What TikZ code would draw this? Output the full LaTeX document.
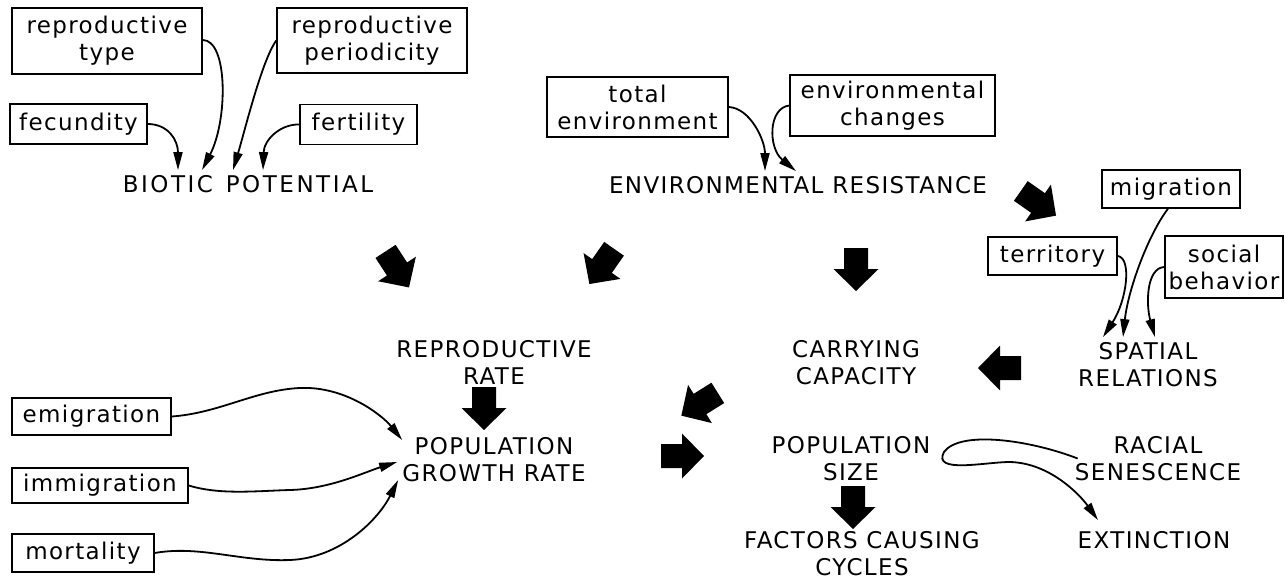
\documentclass[tikz,border=0pt]{standalone}
\usepackage{fontspec}
\setmainfont{DejaVu Sans}[LetterSpace=6]
\usetikzlibrary{arrows.meta}
\tikzset{
  bigarrow/.pic={\fill (-21,-12) -- (0,-12) -- (0,-22.5) -- (22,0) -- (0,22.5) -- (0,12) -- (-21,12) -- cycle;},
  lbl/.style={inner sep=5pt, align=center},
  box/.style={draw, line width=1.4pt, inner sep=0pt, align=center},
  conn/.style={line width=1.8pt, -{Triangle[length=18pt,width=9pt]}}
}
\begin{document}
\begin{tikzpicture}[x=1pt,y=-1pt, every node/.style={font=\fontsize{23}{27}\selectfont}]
\useasboundingbox (0,0) rectangle (1285,580);

% boxes
\node[box, minimum width=190pt, minimum height=66pt] (rt) at (107,41) {reproductive\\type};
\node[box, minimum width=190pt, minimum height=65pt] (rp) at (372,40.5) {reproductive\\periodicity};
\node[box, minimum width=137pt, minimum height=40pt] (fec) at (78.5,124) {fecundity};
\node[box, minimum width=117pt, minimum height=40pt] (fer) at (358.5,124.5) {fertility};
\node[box, minimum width=181pt, minimum height=60pt] (te) at (637.5,107) {total\\environment};
\node[box, minimum width=205pt, minimum height=61pt] (ec) at (892.5,105.5) {environmental\\changes};
\node[box, minimum width=138pt, minimum height=38pt] (mig) at (1171,189) {migration};
\node[box, minimum width=129pt, minimum height=38pt] (ter) at (1052.5,256) {territory};
\node[box, minimum width=118pt, minimum height=62pt] (soc) at (1224,267) {social\\behavior};
\node[box, minimum width=159pt, minimum height=37pt] (emi) at (91.5,416.5) {emigration};
\node[box, minimum width=176pt, minimum height=35pt] (imm) at (100,485.5) {immigration};
\node[box, minimum width=142pt, minimum height=38pt] (mor) at (83,553) {mortality};

% labels
\node[lbl] (bp) at (248,184) {\addfontfeature{LetterSpace=11}BIOTIC\hspace{3pt} POTENTIAL};
\node[lbl] (er) at (798,185) {ENVIRONMENTAL RESISTANCE};
\node[lbl] (sr) at (1148,364.5) {SPATIAL\\RELATIONS};
\node[lbl] (cc) at (856,363) {CARRYING\\CAPACITY};
\node[lbl] (rr) at (494,362.5) {REPRODUCTIVE\\RATE};
\node[lbl] (pgr) at (494,460) {POPULATION\\GROWTH RATE};
\node[lbl] (ps) at (851,458.5) {POPULATION\\SIZE};
\node[lbl] (fcc) at (862,553.5) {FACTORS CAUSING\\CYCLES};
\node[lbl] (rs) at (1158,458.5) {RACIAL\\SENESCENCE};
\node[lbl] (ext) at (1154,540) {EXTINCTION};

% thin connectors
\draw[conn] (fec.east) .. controls (168,124) and (178,140) .. ([xshift=-70pt]bp.north);
\draw[conn] ([yshift=1pt]rt.east) .. controls (228,40) and (228,120) .. ([xshift=-46pt]bp.north);
\draw[conn] (rp.west) .. controls (262,60) and (245,130) .. ([xshift=-15pt]bp.north);
\draw[conn] (fer.west) .. controls (280,124) and (264,140) .. ([xshift=15pt]bp.north);

\draw[conn] (te.east) .. controls (750,108) and (765,140) .. ([xshift=-33pt]er.north);
\draw[conn] (ec.west) .. controls (768,108) and (768,148) .. ([xshift=-2pt]er.north);

\draw[conn] (ter.east) .. controls (1132,258) and (1127,300) .. ([xshift=-45pt]sr.north);
\draw[conn] ([xshift=-3pt]mig.south) .. controls (1148,235) and (1128,290) .. ([xshift=-25pt]sr.north);
\draw[conn] (soc.west) .. controls (1146,268) and (1146,305) .. ([xshift=7pt]sr.north);

\draw[conn] (emi.east) .. controls (220,413) and (255,390) .. (300,388) .. controls (345,386) and (382,415) .. ([xshift=5pt,yshift=20pt]pgr.west);
\draw[conn] (imm.east) .. controls (220,495) and (255,491) .. (290,490) .. controls (330,489) and (365,472) .. ([yshift=-2pt]pgr.west);
\draw[conn] (mor.east) .. controls (200,545) and (240,562) .. (290,560) .. controls (340,558) and (378,520) .. ([xshift=1pt,yshift=-20pt]pgr.west);

\draw[conn] ([xshift=8pt]rs.west) .. controls (1030,440) and (960,430) .. (944,452) .. controls (932,474) and (985,462) .. (1010,462) .. controls (1050,463) and (1080,495) .. ([xshift=-56pt,yshift=6pt]ext.north);

% big block arrows
\pic[rotate=-57] at (397,269) {bigarrow};
\pic[rotate=-125] at (602,266) {bigarrow};
\pic[rotate=-90] at (856,269) {bigarrow};
\pic[rotate=-35] at (1038,203) {bigarrow};
\pic[rotate=180] at (1000,368) {bigarrow};
\pic[rotate=-148] at (700,404) {bigarrow};
\pic[rotate=-90] at (484,408) {bigarrow};
\pic at (682,456) {bigarrow};
\pic[rotate=-90] at (853,507) {bigarrow};
\end{tikzpicture}
\end{document}
